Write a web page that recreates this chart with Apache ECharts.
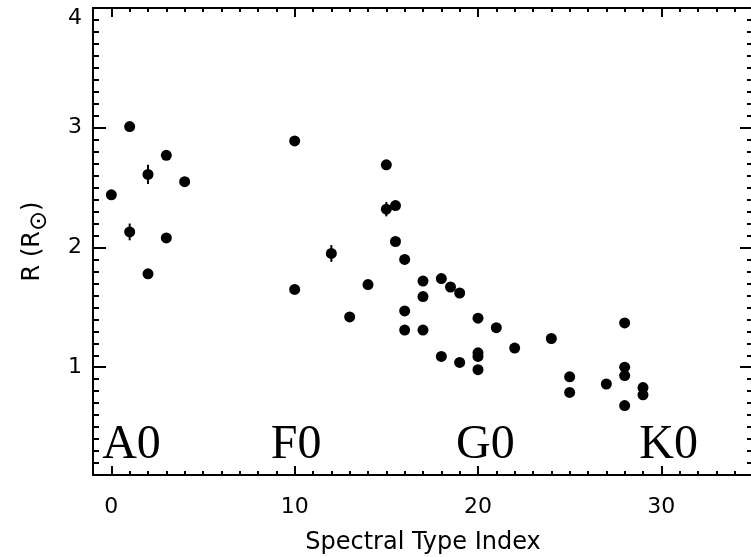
<!DOCTYPE html>
<html>
<head>
<meta charset="utf-8">
<script src="https://cdn.jsdelivr.net/npm/echarts@6/dist/echarts.min.js"></script>
<style>
  html, body { margin: 0; padding: 0; background: #fff; }
  #chart { width: 751px; height: 557px; }
</style>
</head>
<body>
<div id="chart"></div>
<script>
  // spectral type index vs radius
  var specIdx = [0, 1, 1, 2, 2, 3, 3, 4, 10, 10, 12, 13, 14, 15, 15, 15.5, 15.5, 16, 16, 16,
    17, 17, 17, 18, 18, 18.5, 19, 19, 20, 20, 20, 20, 21, 22, 24, 25, 25, 27, 28, 28, 28, 28, 29, 29]
  var radius = [2.44, 3.01, 2.13, 2.61, 1.78, 2.77, 2.08, 2.55, 2.89, 1.65, 1.95, 1.42, 1.69, 2.69, 2.32, 2.35, 2.05, 1.90, 1.47, 1.31,
    1.72, 1.59, 1.31, 1.74, 1.09, 1.67, 1.62, 1.04, 1.41, 1.12, 1.09, 0.98, 1.33, 1.16, 1.24, 0.92, 0.79, 0.86, 1.37, 1.00, 0.93, 0.68, 0.83, 0.77]

  // points with visible error bars
  var errX = [1, 2, 12, 15]
  var errY = [2.13, 2.61, 1.95, 2.32]
  var errV = [0.07, 0.08, 0.07, 0.06]

  var classNames = ['A0', 'F0', 'G0', 'K0']
  var classX = [-0.5, 8.7, 18.8, 28.8]
  var classY = [0.35, 0.35, 0.35, 0.35]

  var xTicks = [0, 10, 20, 30]
  var yTicks = [1, 2, 3, 4]

  var myChart = echarts.init(document.getElementById('chart'))

  var axisFont = { fontFamily: 'DejaVu Sans', fontSize: 22, color: '#000' }

  function xAx(pos, major, labels) {
    return {
      type: 'value', position: pos, min: -1, max: 35,
      interval: major ? undefined : 1,
      axisLine: { show: major, onZero: false, lineStyle: { color: '#000', width: 2 } },
      axisTick: major
        ? { show: true, inside: true, length: 9, customValues: xTicks, lineStyle: { color: '#000', width: 2 } }
        : { show: true, inside: true, length: 4, lineStyle: { color: '#000', width: 2 } },
      axisLabel: labels
        ? Object.assign({ show: true, margin: 21, customValues: xTicks }, axisFont)
        : { show: false },
      splitLine: { show: false }
    }
  }

  function yAx(pos, major, labels) {
    return {
      type: 'value', position: pos, min: 0.1, max: 4,
      interval: major ? undefined : 0.1,
      axisLine: { show: major, onZero: false, lineStyle: { color: '#000', width: 2 } },
      axisTick: major
        ? { show: true, inside: true, length: 13, customValues: yTicks, lineStyle: { color: '#000', width: 2 } }
        : { show: true, inside: true, length: 6, lineStyle: { color: '#000', width: 2 } },
      axisLabel: labels
        ? Object.assign({
            show: true, margin: 11, customValues: yTicks,
            // top label sits a bit lower, inside the window
            formatter: function (v) { return v === 4 ? '{t|4}' : String(v) },
            rich: { t: { fontFamily: 'DejaVu Sans', fontSize: 22, color: '#000', padding: [20, 0, 0, 0] } }
          }, axisFont)
        : { show: false },
      splitLine: { show: false }
    }
  }

  var xMain = xAx('bottom', true, true)
  xMain.name = 'Spectral Type Index'
  xMain.nameLocation = 'middle'
  xMain.nameGap = 56
  xMain.nameTextStyle = { fontFamily: 'DejaVu Sans', fontSize: 24, color: '#000' }

  var yMain = yAx('left', true, true)
  yMain.name = 'R (R{s|⊙})'
  yMain.nameLocation = 'middle'
  yMain.nameGap = 41
  yMain.nameTextStyle = {
    fontFamily: 'DejaVu Sans', fontSize: 24, color: '#000',
    rich: { s: { fontFamily: 'DejaVu Sans', fontSize: 24, color: '#000', padding: [14, 0, 0, 0] } }
  }

  var pts = specIdx.map(function (x, i) { return [x, radius[i]] })
  var errs = errX.map(function (x, i) { return [x, errY[i], errV[i]] })
  var cls = classNames.map(function (n, i) { return { value: [classX[i], classY[i]], name: n } })

  var option = {
    animation: false,
    backgroundColor: '#fff',
    grid: { left: 93, top: 8, width: 660, height: 467, outerBoundsMode: 'none', containLabel: false },
    xAxis: [xMain, xAx('bottom', false, false), xAx('top', true, false), xAx('top', false, false)],
    yAxis: [yMain, yAx('left', false, false), yAx('right', true, false), yAx('right', false, false)],
    series: [
      {
        type: 'custom',
        renderItem: function (params, api) {
          var a = api.coord([api.value(0), api.value(1) - api.value(2)])
          var b = api.coord([api.value(0), api.value(1) + api.value(2)])
          return {
            type: 'line',
            shape: { x1: a[0], y1: a[1], x2: b[0], y2: b[1] },
            style: { stroke: '#000', lineWidth: 2 }
          }
        },
        data: errs,
        z: 3
      },
      {
        type: 'scatter',
        symbol: 'circle',
        symbolSize: 11,
        itemStyle: { color: '#000', opacity: 1 },
        data: pts,
        z: 4
      },
      {
        type: 'scatter',
        symbolSize: 0,
        data: cls,
        label: {
          show: true,
          position: 'inside',
          align: 'left',
          verticalAlign: 'middle',
          formatter: '{b}',
          fontFamily: 'Liberation Serif',
          fontSize: 48,
          color: '#000',
          opacity: 1
        },
        z: 5
      }
    ]
  }
  myChart.setOption(option)
</script>
</body>
</html>
